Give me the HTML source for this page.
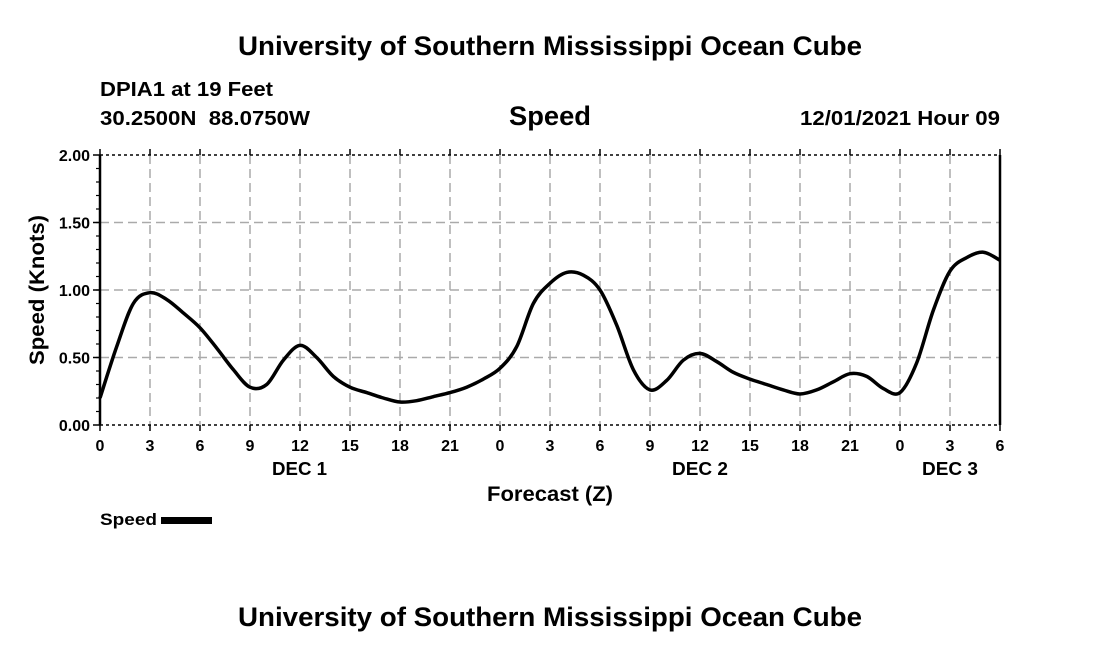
<!DOCTYPE html>
<html><head><meta charset="utf-8"><style>
body{margin:0;background:#fff;font-family:"Liberation Sans",sans-serif}
svg text{font-family:"Liberation Sans",sans-serif;font-weight:bold;fill:#000}
</style></head><body>
<svg width="1100" height="650" id="chart">
<text x="238" y="55" font-size="27" textLength="624" lengthAdjust="spacingAndGlyphs">University of Southern Mississippi Ocean Cube</text>
<text x="100" y="96" font-size="20" textLength="173" lengthAdjust="spacingAndGlyphs">DPIA1 at 19 Feet</text>
<text x="100" y="125" font-size="20" textLength="210" lengthAdjust="spacingAndGlyphs" xml:space="preserve">30.2500N  88.0750W</text>
<text x="509" y="125" font-size="27" textLength="82" lengthAdjust="spacingAndGlyphs">Speed</text>
<text x="800" y="125" font-size="20" textLength="200" lengthAdjust="spacingAndGlyphs">12/01/2021 Hour 09</text>
<g id="grid"></g>
<g id="axes"></g>
<path id="line" fill="none" stroke="#000" stroke-width="3.5" stroke-linejoin="round"/>
<text x="44" y="290" font-size="21" text-anchor="middle" textLength="150" lengthAdjust="spacingAndGlyphs" transform="rotate(-90 44 290)">Speed (Knots)</text>
<text x="487" y="501" font-size="21" textLength="126" lengthAdjust="spacingAndGlyphs">Forecast (Z)</text>
<text x="272" y="475" font-size="18" textLength="55" lengthAdjust="spacingAndGlyphs">DEC 1</text>
<text x="672" y="475" font-size="18" textLength="56" lengthAdjust="spacingAndGlyphs">DEC 2</text>
<text x="922" y="475" font-size="18" textLength="56" lengthAdjust="spacingAndGlyphs">DEC 3</text>
<g><text x="100" y="525" font-size="17" textLength="57" lengthAdjust="spacingAndGlyphs">Speed</text><rect x="161" y="517" width="51" height="7" fill="#000"/></g>
<text x="238" y="626" font-size="27" textLength="624" lengthAdjust="spacingAndGlyphs">University of Southern Mississippi Ocean Cube</text>
</svg>
<script>
const speeds=[0.20,0.58,0.90,0.98,0.93,0.83,0.72,0.57,0.41,0.28,0.30,0.48,0.59,0.50,0.36,0.28,0.24,0.20,0.17,0.18,0.21,0.24,0.28,0.34,0.42,0.58,0.90,1.05,1.13,1.11,1.00,0.74,0.41,0.26,0.33,0.48,0.53,0.47,0.39,0.34,0.30,0.26,0.23,0.26,0.32,0.38,0.36,0.27,0.24,0.46,0.85,1.14,1.24,1.28,1.22];
const xTickLabels=["0","3","6","9","12","15","18","21","0","3","6","9","12","15","18","21","0","3","6"];
const yTickValues=[0,0.5,1.0,1.5,2.0];
const NS="http://www.w3.org/2000/svg";
const X0=100,X1=1000,Y0=425,Y1=155,HMAX=54,VMAX=2;
const xs=h=>X0+(X1-X0)*h/HMAX, ys=v=>Y0-(Y0-Y1)*v/VMAX;
function mk(t,a,p){const e=document.createElementNS(NS,t);for(const k in a)e.setAttribute(k,a[k]);p.appendChild(e);return e;}
const grid=document.getElementById('grid'),axes=document.getElementById('axes');
xTickLabels.forEach((l,i)=>{const x=xs(i*3);
 if(i>0&&i<xTickLabels.length-1){const g=mk('line',{x1:x,x2:x,y1:Y1,y2:Y0,stroke:'#aaa','stroke-width':1.5,'stroke-dasharray':'9,5'},grid);
 
 }
 mk('line',{x1:x,x2:x,y1:Y0,y2:Y0+6,stroke:'#000','stroke-width':1.5},axes);
 mk('line',{x1:x,x2:x,y1:Y1,y2:Y1-6,stroke:'#000','stroke-width':1.5},axes);
 const t=mk('text',{x:x,y:Y0+26,'font-size':16,'text-anchor':'middle'},axes);t.textContent=l;
 
 
});
yTickValues.forEach(v=>{const y=ys(v);
 if(v>0&&v<VMAX){const g=mk('line',{x1:X0,x2:X1,y1:y,y2:y,stroke:'#aaa','stroke-width':1.5,'stroke-dasharray':'9,5'},grid);
 
 }
 mk('line',{x1:X0-7,x2:X0,y1:y,y2:y,stroke:'#000','stroke-width':1.5},axes);
 const t=mk('text',{x:X0-10,y:y+6,'font-size':16,'text-anchor':'end'},axes);t.textContent=v.toFixed(2);
 
 
});
for(let v=0.1;v<VMAX;v+=0.1){const y=ys(v);mk('line',{x1:X0-4,x2:X0,y1:y,y2:y,stroke:'#000','stroke-width':1.2},axes);}
mk('line',{x1:X0,x2:X1,y1:Y1,y2:Y1,stroke:'#000','stroke-width':1.5,'stroke-dasharray':'3,3'},axes);
mk('line',{x1:X0,x2:X1,y1:Y0,y2:Y0,stroke:'#000','stroke-width':1.5,'stroke-dasharray':'3,3'},axes);
mk('line',{x1:X0,x2:X0,y1:Y1,y2:Y0,stroke:'#000','stroke-width':2.5},axes);
mk('line',{x1:X1,x2:X1,y1:Y1,y2:Y0,stroke:'#000','stroke-width':2.5},axes);
const pts=speeds.map((v,i)=>[xs(i),ys(v)]);
let d='M'+pts[0][0]+','+pts[0][1];
for(let i=0;i<pts.length-1;i++){const p0=pts[Math.max(0,i-1)],p1=pts[i],p2=pts[i+1],p3=pts[Math.min(pts.length-1,i+2)];
 d+=` C${p1[0]+(p2[0]-p0[0])/6},${p1[1]+(p2[1]-p0[1])/6} ${p2[0]-(p3[0]-p1[0])/6},${p2[1]-(p3[1]-p1[1])/6} ${p2[0]},${p2[1]}`;}
document.getElementById('line').setAttribute('d',d);
</script>
</body></html>
